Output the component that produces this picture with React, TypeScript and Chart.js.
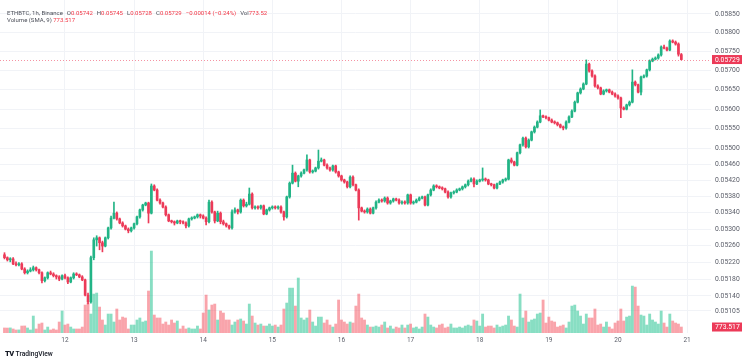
import { useEffect, useRef } from "react";
import { Chart, registerables } from "chart.js";

Chart.register(...registerables);

// ---------- data (ETHBTC 1h, Binance) ----------
const dayTicks = [21, 45, 69, 93, 117, 141, 165, 189, 213, 237];
const dayLabels = ["12", "13", "14", "15", "16", "17", "18", "19", "20", "21"];
const priceTicks = [
  0.05105, 0.0514, 0.0518, 0.0522, 0.0526, 0.053, 0.0534, 0.0538, 0.0542, 0.0546,
  0.055, 0.0555, 0.056, 0.0565, 0.057, 0.0575, 0.058, 0.0585,
];

const open = [
  0.05238, 0.05231, 0.05226, 0.05228, 0.05216, 0.05214, 0.05216, 0.05204, 0.05195, 0.05199,
  0.05202, 0.05207, 0.05202, 0.05195, 0.05176, 0.05183, 0.05195, 0.05192, 0.05188, 0.05185,
  0.0518, 0.05188, 0.05183, 0.05173, 0.05183, 0.05192, 0.0519, 0.05185, 0.05178, 0.05142,
  0.05126, 0.05231, 0.05274, 0.05279, 0.05267, 0.05259, 0.05279, 0.05303, 0.05327, 0.05339,
  0.05325, 0.05315, 0.05308, 0.053, 0.05296, 0.05303, 0.05313, 0.0533, 0.05347, 0.05359,
  0.05364, 0.05339, 0.05406, 0.05396, 0.05371, 0.05364, 0.05354, 0.05335, 0.0532, 0.05318,
  0.05315, 0.0532, 0.05318, 0.05315, 0.05308, 0.05325, 0.05327, 0.0533, 0.05335, 0.05332,
  0.05327, 0.05318, 0.05366, 0.05342, 0.0532, 0.05339, 0.05318, 0.05313, 0.05308, 0.05303,
  0.05342, 0.05347, 0.05342, 0.05371, 0.05357, 0.05361, 0.05386, 0.05352, 0.05354, 0.05352,
  0.05357, 0.05337, 0.05347, 0.05352, 0.05354, 0.05352, 0.05354, 0.05342, 0.0533, 0.05379,
  0.05413, 0.05438, 0.05418, 0.05431, 0.05438, 0.05446, 0.05471, 0.05441, 0.05443, 0.05451,
  0.05468, 0.05471, 0.05458, 0.05451, 0.05446, 0.05456, 0.05441, 0.05431, 0.05421, 0.05416,
  0.05404, 0.05428, 0.05409, 0.05396, 0.05352, 0.05344, 0.05342, 0.05349, 0.05339, 0.05352,
  0.05366, 0.05371, 0.05369, 0.05376, 0.05364, 0.05369, 0.05374, 0.05371, 0.05364, 0.05366,
  0.05364, 0.05384, 0.05364, 0.05366, 0.05371, 0.05376, 0.05379, 0.05359, 0.05384, 0.05396,
  0.05406, 0.05404, 0.05401, 0.05399, 0.05391, 0.05379, 0.05389, 0.05391, 0.05396, 0.05399,
  0.05404, 0.05409, 0.05418, 0.05423, 0.05411, 0.05418, 0.05421, 0.05423, 0.05421, 0.05411,
  0.05409, 0.05401, 0.05411, 0.05416, 0.05421, 0.05423, 0.05471, 0.05466, 0.05458, 0.05489,
  0.05509, 0.05526, 0.05504, 0.05521, 0.05542, 0.05554, 0.05567, 0.05583, 0.0558, 0.05578,
  0.05572, 0.05567, 0.05565, 0.0556, 0.05554, 0.05552, 0.05567, 0.0558, 0.05595, 0.05618,
  0.05642, 0.05652, 0.05665, 0.05717, 0.05699, 0.05686, 0.0566, 0.05655, 0.05639, 0.05647,
  0.0565, 0.05644, 0.05639, 0.05634, 0.05629, 0.05603, 0.056, 0.05611, 0.05618, 0.0567,
  0.05663, 0.05644, 0.05683, 0.05686, 0.05702, 0.05725, 0.0573, 0.05733, 0.05741, 0.05762,
  0.05759, 0.05754, 0.05778, 0.05775, 0.0577, 0.05742,
];

const high = [
  0.05243, 0.05233, 0.05231, 0.05231, 0.05221, 0.05219, 0.05219, 0.05207, 0.05202, 0.05207,
  0.05211, 0.05209, 0.05204, 0.05197, 0.05185, 0.05197, 0.05199, 0.05195, 0.0519, 0.05188,
  0.0519, 0.05192, 0.05185, 0.05185, 0.05195, 0.05195, 0.05192, 0.05188, 0.0518, 0.05147,
  0.05235, 0.05279, 0.05284, 0.05281, 0.05271, 0.05281, 0.05305, 0.05332, 0.05366, 0.05342,
  0.05327, 0.05318, 0.0531, 0.05303, 0.05305, 0.05315, 0.05332, 0.05349, 0.05361, 0.05366,
  0.05366, 0.05411, 0.05409, 0.05399, 0.05374, 0.05366, 0.05357, 0.05337, 0.05322, 0.0532,
  0.05322, 0.05322, 0.0532, 0.05318, 0.05327, 0.0533, 0.05332, 0.05337, 0.05337, 0.05335,
  0.0533, 0.05371, 0.05369, 0.05344, 0.05344, 0.05342, 0.05322, 0.05315, 0.0531, 0.05347,
  0.05352, 0.05349, 0.05374, 0.05374, 0.05366, 0.05401, 0.05389, 0.05357, 0.05357, 0.05359,
  0.05359, 0.05349, 0.05354, 0.05357, 0.05357, 0.05357, 0.05357, 0.05344, 0.05381, 0.05416,
  0.05458, 0.05441, 0.05433, 0.05441, 0.05448, 0.05484, 0.05473, 0.05446, 0.05453, 0.05496,
  0.05476, 0.05473, 0.05461, 0.05453, 0.05458, 0.05458, 0.05443, 0.05433, 0.05423, 0.05418,
  0.05431, 0.05431, 0.05411, 0.05399, 0.05354, 0.05347, 0.05352, 0.05352, 0.05354, 0.05369,
  0.05374, 0.05374, 0.05379, 0.05379, 0.05371, 0.05376, 0.05376, 0.05374, 0.05369, 0.05369,
  0.05386, 0.05386, 0.05369, 0.05374, 0.05379, 0.05381, 0.05381, 0.05386, 0.05399, 0.05409,
  0.05409, 0.05406, 0.05404, 0.05401, 0.05394, 0.05391, 0.05394, 0.05399, 0.05401, 0.05406,
  0.05411, 0.05421, 0.05426, 0.05426, 0.05421, 0.05423, 0.05451, 0.05426, 0.05423, 0.05413,
  0.05411, 0.05413, 0.05418, 0.05423, 0.05426, 0.05473, 0.05476, 0.05468, 0.05491, 0.05511,
  0.05529, 0.05529, 0.05524, 0.05544, 0.05557, 0.0557, 0.05598, 0.05585, 0.05583, 0.0558,
  0.05575, 0.0557, 0.05567, 0.05562, 0.05557, 0.0557, 0.05583, 0.05598, 0.05621, 0.05644,
  0.05655, 0.05668, 0.05728, 0.0572, 0.05702, 0.05689, 0.05663, 0.05657, 0.0565, 0.05652,
  0.05652, 0.05647, 0.05642, 0.05637, 0.05631, 0.05606, 0.05613, 0.05621, 0.05702, 0.05673,
  0.05665, 0.05686, 0.05689, 0.05704, 0.05728, 0.05733, 0.05736, 0.05744, 0.05765, 0.05767,
  0.05762, 0.05781, 0.05781, 0.05778, 0.05773, 0.05745,
];

const low = [
  0.05228, 0.05223, 0.05221, 0.05214, 0.05211, 0.05211, 0.05202, 0.05192, 0.05192, 0.05197,
  0.05199, 0.05199, 0.05192, 0.05171, 0.05173, 0.0518, 0.0519, 0.05185, 0.0518, 0.05176,
  0.05178, 0.0518, 0.05169, 0.05171, 0.0518, 0.05188, 0.05183, 0.05176, 0.0514, 0.05121,
  0.05123, 0.05226, 0.05259, 0.0525, 0.05245, 0.05257, 0.05276, 0.053, 0.05325, 0.05322,
  0.05313, 0.05305, 0.05298, 0.05291, 0.05293, 0.053, 0.0531, 0.05327, 0.05344, 0.05357,
  0.05315, 0.05337, 0.05394, 0.05369, 0.05361, 0.05352, 0.05332, 0.05318, 0.05315, 0.0531,
  0.05313, 0.05313, 0.05313, 0.05303, 0.05305, 0.05322, 0.05325, 0.05327, 0.05327, 0.05325,
  0.0531, 0.05315, 0.05339, 0.05315, 0.05318, 0.05313, 0.0531, 0.05305, 0.053, 0.053,
  0.05339, 0.05337, 0.05339, 0.05354, 0.05354, 0.05359, 0.05349, 0.05349, 0.05349, 0.05349,
  0.05335, 0.05335, 0.05344, 0.05349, 0.05349, 0.05349, 0.05339, 0.05322, 0.05327, 0.05376,
  0.05411, 0.05416, 0.05404, 0.05428, 0.05436, 0.05443, 0.05438, 0.05438, 0.05441, 0.05448,
  0.05466, 0.05456, 0.05448, 0.05443, 0.05443, 0.05438, 0.05428, 0.05418, 0.05413, 0.05401,
  0.05401, 0.05406, 0.05394, 0.05322, 0.05342, 0.05339, 0.05339, 0.05337, 0.05337, 0.05349,
  0.05364, 0.05366, 0.05366, 0.05361, 0.05361, 0.05366, 0.05369, 0.05361, 0.05361, 0.05361,
  0.05361, 0.05361, 0.05361, 0.05364, 0.05369, 0.05374, 0.05357, 0.05357, 0.05381, 0.05394,
  0.05401, 0.05399, 0.05396, 0.05389, 0.05376, 0.05376, 0.05386, 0.05389, 0.05394, 0.05396,
  0.05401, 0.05406, 0.05416, 0.05404, 0.05409, 0.05416, 0.05418, 0.05418, 0.05409, 0.05406,
  0.05399, 0.05399, 0.05409, 0.05413, 0.05418, 0.05421, 0.05463, 0.05456, 0.05456, 0.05486,
  0.05506, 0.05501, 0.05501, 0.05519, 0.05539, 0.05552, 0.05565, 0.05578, 0.05575, 0.0557,
  0.05565, 0.05562, 0.05557, 0.05552, 0.05547, 0.05549, 0.05565, 0.05578, 0.05593, 0.05616,
  0.05639, 0.0565, 0.05663, 0.05696, 0.05683, 0.05657, 0.05652, 0.05637, 0.05637, 0.05644,
  0.05642, 0.05637, 0.05631, 0.05626, 0.05578, 0.05598, 0.05598, 0.05608, 0.05616, 0.0566,
  0.05642, 0.05637, 0.05681, 0.05683, 0.05699, 0.05723, 0.05728, 0.0573, 0.05738, 0.05757,
  0.05752, 0.05752, 0.05773, 0.05767, 0.05738, 0.05728,
];

const close = [
  0.05231, 0.05226, 0.05228, 0.05216, 0.05214, 0.05216, 0.05204, 0.05195, 0.05199, 0.05202,
  0.05207, 0.05202, 0.05195, 0.05176, 0.05183, 0.05195, 0.05192, 0.05188, 0.05185, 0.0518,
  0.05188, 0.05183, 0.05173, 0.05183, 0.05192, 0.0519, 0.05185, 0.05178, 0.05142, 0.05126,
  0.05231, 0.05274, 0.05279, 0.05267, 0.05259, 0.05279, 0.05303, 0.05327, 0.05339, 0.05325,
  0.05315, 0.05308, 0.053, 0.05296, 0.05303, 0.05313, 0.0533, 0.05347, 0.05359, 0.05364,
  0.05339, 0.05406, 0.05396, 0.05371, 0.05364, 0.05354, 0.05335, 0.0532, 0.05318, 0.05315,
  0.0532, 0.05318, 0.05315, 0.05308, 0.05325, 0.05327, 0.0533, 0.05335, 0.05332, 0.05327,
  0.05318, 0.05366, 0.05342, 0.0532, 0.05339, 0.05318, 0.05313, 0.05308, 0.05303, 0.05342,
  0.05347, 0.05342, 0.05371, 0.05357, 0.05361, 0.05386, 0.05352, 0.05354, 0.05352, 0.05357,
  0.05337, 0.05347, 0.05352, 0.05354, 0.05352, 0.05354, 0.05342, 0.0533, 0.05379, 0.05413,
  0.05438, 0.05418, 0.05431, 0.05438, 0.05446, 0.05471, 0.05441, 0.05443, 0.05451, 0.05468,
  0.05471, 0.05458, 0.05451, 0.05446, 0.05456, 0.05441, 0.05431, 0.05421, 0.05416, 0.05404,
  0.05428, 0.05409, 0.05396, 0.05352, 0.05344, 0.05342, 0.05349, 0.05339, 0.05352, 0.05366,
  0.05371, 0.05369, 0.05376, 0.05364, 0.05369, 0.05374, 0.05371, 0.05364, 0.05366, 0.05364,
  0.05384, 0.05364, 0.05366, 0.05371, 0.05376, 0.05379, 0.05359, 0.05384, 0.05396, 0.05406,
  0.05404, 0.05401, 0.05399, 0.05391, 0.05379, 0.05389, 0.05391, 0.05396, 0.05399, 0.05404,
  0.05409, 0.05418, 0.05423, 0.05411, 0.05418, 0.05421, 0.05423, 0.05421, 0.05411, 0.05409,
  0.05401, 0.05411, 0.05416, 0.05421, 0.05423, 0.05471, 0.05466, 0.05458, 0.05489, 0.05509,
  0.05526, 0.05504, 0.05521, 0.05542, 0.05554, 0.05567, 0.05583, 0.0558, 0.05578, 0.05572,
  0.05567, 0.05565, 0.0556, 0.05554, 0.05552, 0.05567, 0.0558, 0.05595, 0.05618, 0.05642,
  0.05652, 0.05665, 0.05717, 0.05699, 0.05686, 0.0566, 0.05655, 0.05639, 0.05647, 0.0565,
  0.05644, 0.05639, 0.05634, 0.05629, 0.05603, 0.056, 0.05611, 0.05618, 0.0567, 0.05663,
  0.05644, 0.05683, 0.05686, 0.05702, 0.05725, 0.0573, 0.05733, 0.05741, 0.05762, 0.05759,
  0.05754, 0.05778, 0.05775, 0.0577, 0.05743, 0.05729,
];

const volume = [
  650, 640, 660, 520, 390, 400, 900, 910, 650, 390,
  2190, 520, 1160, 1290, 390, 770, 390, 520, 390, 1420,
  2840, 1030, 1160, 770, 520, 520, 520, 770, 3610, 3870,
  2450, 5030, 5160, 3350, 1680, 1030, 2450, 2450, 1420, 3100,
  1680, 2060, 1940, 520, 1030, 1030, 1680, 1940, 1420, 1550,
  5420, 10580, 2320, 1940, 1940, 1160, 1420, 1030, 1680, 1290,
  1550, 520, 900, 520, 650, 520, 520, 900, 520, 2580,
  4900, 2970, 3610, 3740, 1680, 2840, 2580, 1680, 1680, 1030,
  1420, 1680, 1810, 1550, 1160, 3740, 2190, 1290, 1030, 1160,
  900, 900, 1160, 900, 1030, 770, 1030, 3100, 3870, 5800,
  5800, 3480, 7100, 1940, 1680, 1940, 2970, 1420, 900, 2060,
  2060, 1290, 1680, 1030, 770, 1160, 4260, 1680, 1420, 1160,
  1420, 1290, 3480, 5030, 1940, 1680, 1030, 770, 770, 900,
  770, 1030, 1420, 650, 900, 520, 770, 650, 1030, 650,
  1030, 1160, 650, 770, 520, 770, 2450, 2060, 1030, 770,
  650, 1030, 1160, 650, 770, 1160, 650, 650, 770, 650,
  900, 1030, 900, 1680, 1550, 900, 2450, 770, 900, 900,
  650, 1030, 770, 900, 1030, 2190, 1680, 900, 770, 5030,
  1940, 2840, 1420, 1680, 1810, 2450, 2580, 4260, 1290, 2060,
  1550, 1420, 770, 900, 1030, 650, 1420, 3480, 3610, 2840,
  2190, 1160, 2450, 1940, 1940, 3100, 1030, 1160, 770, 1420,
  770, 520, 1290, 1550, 3100, 1550, 2060, 2190, 6060, 5930,
  3480, 2320, 2190, 1030, 2450, 1680, 1420, 1160, 2840, 1290,
  770, 2450, 1550, 1290, 1160, 773.517,
];

// ---------- styles ----------
const FONT = 'Roboto, "Noto Sans", "DejaVu Sans", sans-serif';
const UP = "#22b486";
const DOWN = "#ec3a58";
const UP_VOL = "rgba(38,194,145,0.55)";
const DOWN_VOL = "rgba(242,54,69,0.45)";
const AXIS_TEXT = "#5d606b";
const GRID = "#f1f3f7";

const isUp = (i: number) => close[i] >= open[i];

export default function App() {
  const ref = useRef<HTMLCanvasElement>(null);

  useEffect(() => {
    const idx = close.map((_, i) => i);
    const last = close.length - 1;

    const tagPlugin = {
      id: "tvTags",
      afterDraw(chart: any) {
        const { ctx, chartArea } = chart;
        const ys = chart.scales.y;
        const yv = chart.scales.yv;
        const col = isUp(last) ? UP : DOWN;
        ctx.save();
        // price-scale labels (positions from the y scale)
        ctx.font = `6.8px ${FONT}`;
        ctx.textBaseline = "middle";
        ctx.textAlign = "left";
        ctx.fillStyle = AXIS_TEXT;
        priceTicks.forEach((t) => {
          ctx.fillText(t.toFixed(5), ys.left + 4, ys.getPixelForValue(t));
        });
        // last-price line
        const py = ys.getPixelForValue(close[last]);
        ctx.strokeStyle = "rgba(236,58,88,0.55)";
        ctx.lineWidth = 1;
        ctx.setLineDash([1, 2]);
        ctx.beginPath();
        ctx.moveTo(chartArea.left, Math.round(py) + 0.5);
        ctx.lineTo(chartArea.right, Math.round(py) + 0.5);
        ctx.stroke();
        ctx.setLineDash([]);
        // tags
        const boxL = ys.left + 1;
        ctx.fillStyle = col;
        ctx.fillRect(boxL, py - 4.5, 30, 9);
        ctx.fillStyle = "#ffffff";
        ctx.fillText(close[last].toFixed(5), boxL + 3, py + 0.3);
        const vy = yv.getPixelForValue(volume[last]);
        ctx.fillStyle = col;
        ctx.fillRect(boxL, vy - 4.5, 30, 9);
        ctx.fillStyle = "#ffffff";
        ctx.fillText(volume[last].toFixed(3), boxL + 3, vy + 0.3);
        ctx.restore();
      },
    };

    const chart = new Chart(ref.current as HTMLCanvasElement, {
      type: "bar",
      data: {
        datasets: [
          {
            label: "Volume",
            data: idx.map((i) => ({ x: i, y: volume[i] })),
            yAxisID: "yv",
            backgroundColor: (c: any) => (isUp(c.dataIndex) ? UP_VOL : DOWN_VOL),
            barThickness: 2.2,
            grouped: false,
            order: 3,
          } as any,
          {
            label: "Wick",
            data: idx.map((i) => ({ x: i, y: [low[i], high[i]] })),
            yAxisID: "y",
            backgroundColor: (c: any) => (isUp(c.dataIndex) ? UP : DOWN),
            barThickness: 1,
            grouped: false,
            order: 2,
          } as any,
          {
            label: "Body",
            data: idx.map((i) => ({ x: i, y: [open[i], close[i]] })),
            yAxisID: "y",
            backgroundColor: (c: any) => (isUp(c.dataIndex) ? UP : DOWN),
            barThickness: 2,
            minBarLength: 1,
            grouped: false,
            order: 1,
          } as any,
        ],
      },
      options: {
        responsive: true,
        maintainAspectRatio: false,
        animation: false,
        layout: { padding: { left: 0, right: 0, top: 0, bottom: 15 } },
        plugins: { legend: { display: false }, tooltip: { enabled: false } },
        scales: {
          x: {
            type: "linear",
            offset: false,
            min: -1.5625,
            max: 245.3,
            afterBuildTicks: (s: any) => {
              s.ticks = dayTicks.map((v) => ({ value: v }));
            },
            afterFit: (s: any) => {
              s.height = 15;
              s.paddingLeft = 0;
              s.paddingRight = 0;
            },
            ticks: {
              autoSkip: false,
              maxRotation: 0,
              padding: 3,
              color: AXIS_TEXT,
              font: { family: FONT, size: 6.5 },
              callback: (_v: any, i: number) => dayLabels[i],
            },
            grid: { color: GRID, drawTicks: false, offset: false },
            border: { display: false },
          },
          y: {
            type: "logarithmic",
            position: "right",
            min: 0.050533,
            max: 0.058877,
            bounds: "data",
            afterBuildTicks: (s: any) => {
              s.ticks = priceTicks.map((v) => ({ value: v }));
            },
            afterFit: (s: any) => {
              s.width = 39;
              s.paddingTop = 0;
              s.paddingBottom = 0;
            },
            ticks: { display: false, autoSkip: false },
            grid: { color: GRID, drawTicks: false },
            border: { display: false },
          },
          yv: { type: "linear", display: false, min: 0, max: 43000 },
        },
      } as any,
      plugins: [tagPlugin],
    });
    return () => chart.destroy();
  }, []);

  const last = close.length - 1;
  const chg = close[last] - close[last - 1];
  const pct = (chg / close[last - 1]) * 100;
  const valCol = isUp(last) ? UP : "#f23645";
  const minus = (n: number) => (n < 0 ? "\u2212" + Math.abs(n).toFixed(5) : "+" + n.toFixed(5));
  const item = { marginLeft: 4 };
  const v = { color: valCol };

  return (
    <div
      style={{
        position: "fixed",
        left: 0,
        top: 0,
        width: 750,
        height: 363,
        background: "#ffffff",
        overflow: "hidden",
      }}
    >
      <canvas ref={ref} />
      <div
        style={{
          position: "absolute",
          left: 7,
          top: 9,
          fontFamily: FONT,
          fontSize: 6,
          lineHeight: "7px",
          color: "#4a4d57",
          whiteSpace: "nowrap",
          pointerEvents: "none",
        }}
      >
        <div>
          ETHBTC, 1h, Binance
          <span style={item}>
            O<span style={v}>{open[last].toFixed(5)}</span>
          </span>
          <span style={item}>
            H<span style={v}>{high[last].toFixed(5)}</span>
          </span>
          <span style={item}>
            L<span style={v}>{low[last].toFixed(5)}</span>
          </span>
          <span style={item}>
            C<span style={v}>{close[last].toFixed(5)}</span>
          </span>
          <span style={{ ...item, ...v }}>
            {minus(chg)} ({pct < 0 ? "\u2212" : "+"}
            {Math.abs(pct).toFixed(2)}%)
          </span>
          <span style={item}>
            Vol<span style={v}>{volume[last].toFixed(2)}</span>
          </span>
        </div>
        <div>
          Volume (SMA, 9) <span style={v}>{volume[last].toFixed(3)}</span>
        </div>
      </div>
      <div
        style={{
          position: "absolute",
          left: 5,
          top: 349,
          fontFamily: FONT,
          color: "#131722",
          whiteSpace: "nowrap",
          display: "flex",
          alignItems: "center",
          gap: 2,
        }}
      >
        <span style={{ fontSize: 7.5, fontWeight: 900, letterSpacing: -0.6 }}>TV</span>
        <span style={{ fontSize: 6.7, fontWeight: 500 }}>TradingView</span>
      </div>
    </div>
  );
}
